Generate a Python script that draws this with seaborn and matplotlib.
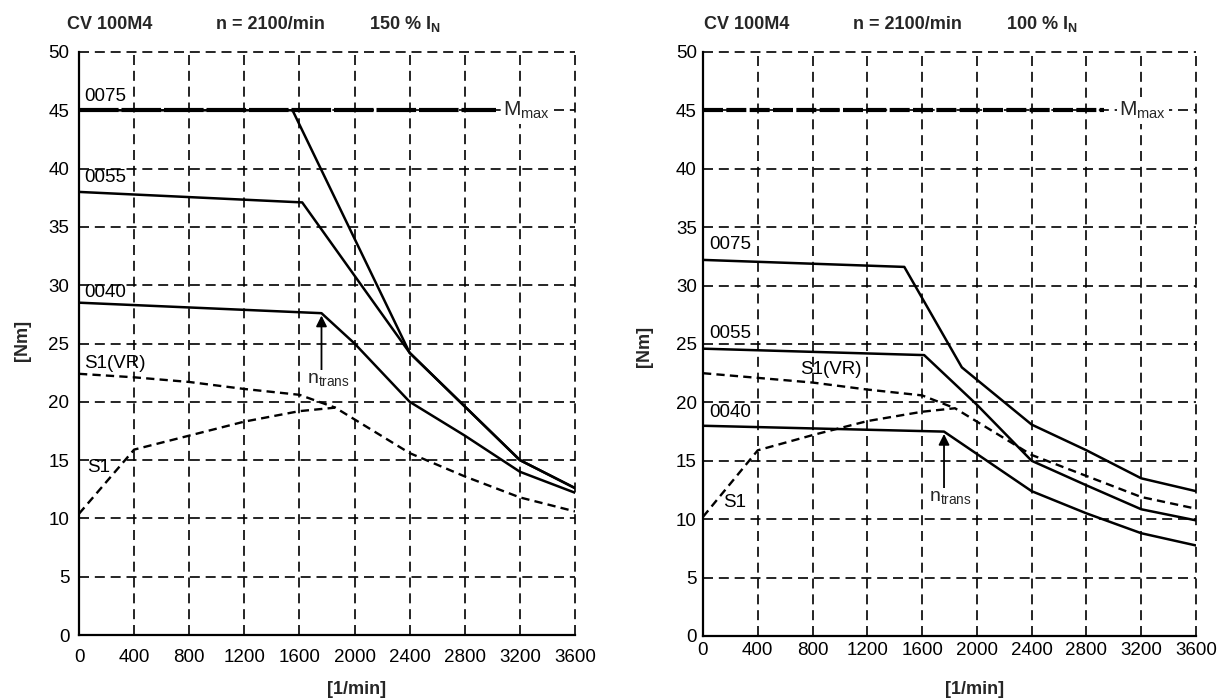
import matplotlib
matplotlib.use("Agg")
import matplotlib.pyplot as plt
import seaborn as sns

# ---- data (speed in 1/min, torque in Nm) ----
speed_ticks = [0, 400, 800, 1200, 1600, 2000, 2400, 2800, 3200, 3600]
torque_ticks = [0, 5, 10, 15, 20, 25, 30, 35, 40, 45, 50]

mmax_value = 45

# left chart: 150 % IN
l_mmax_speed = [0, 3025]
l_0075_speed = [0, 1550, 2400, 3200, 3600]
l_0075_torque = [45.0, 45.0, 24.2, 15.0, 12.6]
l_0055_speed = [0, 1620, 2400, 3200, 3600]
l_0055_torque = [38.0, 37.1, 24.2, 15.0, 12.6]
l_0040_speed = [0, 1760, 2000, 2400, 2800, 3200, 3600]
l_0040_torque = [28.5, 27.6, 25.0, 20.0, 17.1, 14.0, 12.2]
l_s1vr_speed = [0, 400, 800, 1200, 1600, 1860]
l_s1vr_torque = [22.4, 22.1, 21.7, 21.1, 20.6, 19.5]
l_s1_speed = [0, 400, 800, 1200, 1600, 1860, 2400, 2800, 3200, 3600]
l_s1_torque = [10.4, 15.9, 17.1, 18.3, 19.2, 19.5, 15.6, 13.6, 11.8, 10.6]
l_ntrans = 1760

# right chart: 100 % IN
r_mmax_speed = [0, 2930]
r_0075_speed = [0, 1470, 1890, 2400, 2800, 3200, 3600]
r_0075_torque = [32.2, 31.6, 23.0, 18.1, 15.9, 13.5, 12.4]
r_0055_speed = [0, 1615, 2000, 2400, 2800, 3200, 3600]
r_0055_torque = [24.6, 24.05, 19.8, 15.0, 12.9, 10.85, 9.9]
r_0040_speed = [0, 1760, 2400, 2800, 3200, 3600]
r_0040_torque = [18.0, 17.5, 12.4, 10.5, 8.8, 7.75]
r_s1vr_speed = [0, 400, 800, 1200, 1600, 1840]
r_s1vr_torque = [22.5, 22.1, 21.7, 21.1, 20.6, 19.5]
r_s1_speed = [0, 400, 800, 1200, 1600, 1840, 2400, 3200, 3600]
r_s1_torque = [10.2, 15.9, 17.2, 18.4, 19.2, 19.5, 15.5, 11.9, 10.9]
r_ntrans = 1760

sns.set_style("white")
plt.rcParams["font.family"] = ["Liberation Sans", "DejaVu Sans"]
plt.rcParams["mathtext.fontset"] = "custom"
plt.rcParams["mathtext.rm"] = "Liberation Sans"
plt.rcParams["mathtext.bf"] = "Liberation Sans:bold"
plt.rcParams["mathtext.it"] = "Liberation Sans:italic"

fig = plt.figure(figsize=(12.24, 7), dpi=100)
ax_l = fig.add_axes([79 / 1224, 1 - 635 / 700, (575 - 79) / 1224, (635 - 52) / 700])
ax_r = fig.add_axes([703 / 1224, 1 - 636 / 700, (1196 - 703) / 1224, (636 - 52) / 700])

grid_style = (0, (6, 3.5))
s1_style = (0, (3.5, 2.2))


def setup_axes(ax, tick_dir, pad):
    ax.set_xlim(0, 3600)
    ax.set_ylim(0, 50)
    ax.set_xticks(speed_ticks)
    ax.set_yticks(torque_ticks)
    ax.tick_params(axis="both", direction=tick_dir, length=5, width=1.2,
                   labelsize=13.5, colors="black", pad=2)
    ax.tick_params(axis="x", pad=pad)
    ax.grid(True, color="black", linestyle=grid_style, linewidth=1.2)
    for gl in ax.get_xgridlines() + ax.get_ygridlines():
        gl.set_clip_on(False)
    ax.set_axisbelow(True)
    for side in ["top", "right"]:
        ax.spines[side].set_visible(False)
    for side in ["left", "bottom"]:
        ax.spines[side].set_color("black")
        ax.spines[side].set_linewidth(1.6)
        ax.spines[side].set_zorder(4)
    ax.set_xlabel("")
    ax.set_ylabel("")


def solid(ax, x, y):
    sns.lineplot(x=x, y=y, ax=ax, color="black", linewidth=1.8,
                 estimator=None, sort=False, zorder=3)


def dashed(ax, x, y):
    sns.lineplot(x=x, y=y, ax=ax, color="black", linewidth=1.7,
                 linestyle=s1_style, estimator=None, sort=False, zorder=3)


def mmax(ax, x, dash):
    sns.lineplot(x=x, y=[mmax_value] * len(x), ax=ax, color="black",
                 linewidth=3, linestyle=(0, dash), estimator=None, sort=False, zorder=3)


def label(ax, x, y, s, ha="left"):
    ax.text(x, y, s, fontsize=13.5, ha=ha, va="center", color="black", zorder=5)


def ntrans(ax, x, y_tip, y_base, y_text):
    ax.annotate("", xy=(x, y_tip), xytext=(x, y_base),
                arrowprops=dict(arrowstyle="-|>", color="black", lw=1.3,
                                mutation_scale=16, shrinkA=0, shrinkB=0),
                zorder=5)
    ax.text(x + 50, y_text, r"n$_\mathrm{trans}$", fontsize=14,
            ha="center", va="center", zorder=5,
            bbox=dict(fc="white", ec="none", pad=0.5))


# ---- left chart ----
mmax(ax_l, l_mmax_speed, (9.5, 0.7))
solid(ax_l, l_0075_speed, l_0075_torque)
solid(ax_l, l_0055_speed, l_0055_torque)
solid(ax_l, l_0040_speed, l_0040_torque)
dashed(ax_l, l_s1vr_speed, l_s1vr_torque)
dashed(ax_l, l_s1_speed, l_s1_torque)
setup_axes(ax_l, "out", 5)

ax_l.text(3080, 45, r"M$_\mathrm{max}$", fontsize=15, ha="left", va="center",
          zorder=5, bbox=dict(fc="white", ec="none", pad=2))
label(ax_l, 40, 46.2, "0075")
label(ax_l, 40, 39.2, "0055")
label(ax_l, 40, 29.4, "0040")
label(ax_l, 40, 23.3, "S1(VR)")
label(ax_l, 60, 14.4, "S1")
ntrans(ax_l, l_ntrans, 27.4, 22.6, 21.9)

# ---- right chart ----
mmax(ax_r, r_mmax_speed, (4.8, 0.8))
solid(ax_r, r_0075_speed, r_0075_torque)
solid(ax_r, r_0055_speed, r_0055_torque)
solid(ax_r, r_0040_speed, r_0040_torque)
dashed(ax_r, r_s1vr_speed, r_s1vr_torque)
dashed(ax_r, r_s1_speed, r_s1_torque)
setup_axes(ax_r, "inout", 2)

ax_r.text(3040, 45, r"M$_\mathrm{max}$", fontsize=15, ha="left", va="center",
          zorder=5, bbox=dict(fc="white", ec="none", pad=2))
label(ax_r, 45, 33.5, "0075")
label(ax_r, 45, 25.9, "0055")
label(ax_r, 45, 19.1, "0040")
label(ax_r, 710, 22.8, "S1(VR)")
label(ax_r, 150, 11.4, "S1")
ntrans(ax_r, r_ntrans, 17.3, 12.6, 11.9)

# ---- titles and axis labels ----
title_y = 1 - 29 / 700
title_kw = dict(fontsize=13, fontweight="bold", va="baseline", ha="left")
fig.text(67 / 1224, title_y, "CV 100M4", **title_kw)
fig.text(216 / 1224, title_y, "n = 2100/min", **title_kw)
fig.text(369 / 1224, title_y, r"150 % I$_\mathbf{N}$", **title_kw)
fig.text(704 / 1224, title_y, "CV 100M4", **title_kw)
fig.text(853 / 1224, title_y, "n = 2100/min", **title_kw)
fig.text(1006 / 1224, title_y, r"100 % I$_\mathbf{N}$", **title_kw)

lab_kw = dict(fontsize=13, fontweight="bold", ha="center", va="center")
fig.text(23 / 1224, 1 - 340 / 700, "[Nm]", rotation=90, **lab_kw)
fig.text(645 / 1224, 1 - 346 / 700, "[Nm]", rotation=90, **lab_kw)
fig.text(357 / 1224, 1 - 689 / 700, "[1/min]", **lab_kw)
fig.text(975 / 1224, 1 - 689 / 700, "[1/min]", **lab_kw)

fig.savefig("out.png", dpi=100)
